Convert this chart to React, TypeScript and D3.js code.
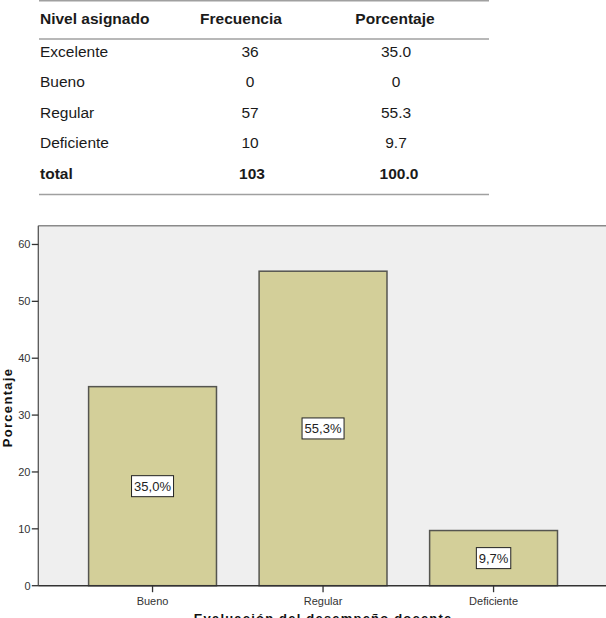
import React from "react";
import * as d3 from "d3";

// Summary table
const tableLevels = ["Excelente", "Bueno", "Regular", "Deficiente"];
const tableFrequency = ["36", "0", "57", "10"];
const tablePercent = ["35.0", "0", "55.3", "9.7"];
const totalRow = ["total", "103", "100.0"];
const tableHeaders = ["Nivel asignado", "Frecuencia", "Porcentaje"];

// Bar chart
const categories = ["Bueno", "Regular", "Deficiente"];
const percentages = [35.0, 55.3, 9.7];
const yTicks = [0, 10, 20, 30, 40, 50, 60];

const W = 606;
const H = 618;

const plot = { left: 38.3, right: 607.8, top: 225.7, bottom: 585.7 };

export default function App() {
  const x = d3
    .scaleBand<string>()
    .domain(categories)
    .range([plot.left, plot.right])
    .paddingInner(0.25)
    .paddingOuter(0.295);
  const y = d3.scaleLinear().domain([0, 63.3]).range([plot.bottom, plot.top]);

  const fmt = (v: number) => d3.format(".1f")(v).replace(".", ",") + "%";

  const tableFont = "'Liberation Sans', Arial, sans-serif";
  const rowY = [56.5, 87, 117.5, 148, 178.8];

  return (
    <svg
      width={W}
      height={H}
      style={{ position: "absolute", left: 0, top: 0, display: "block" }}
      fontFamily={tableFont}
    >
      <rect width={W} height={H} fill="#ffffff" />

      {/* table */}
      <g fill="#1a1a1a" fontSize={15.5}>
        <line x1={39} x2={489} y1={0.7} y2={0.7} stroke="#a0a0a0" strokeWidth={1.5} />
        <line x1={39} x2={489} y1={39} y2={39} stroke="#a0a0a0" strokeWidth={1.5} />
        <line x1={39} x2={489} y1={194.5} y2={194.5} stroke="#a0a0a0" strokeWidth={1.5} />
        <text x={40} y={24} fontWeight="bold">{tableHeaders[0]}</text>
        <text x={241} y={24} fontWeight="bold" textAnchor="middle">{tableHeaders[1]}</text>
        <text x={395} y={24} fontWeight="bold" textAnchor="middle">{tableHeaders[2]}</text>
        {tableLevels.map((lvl, i) => (
          <g key={lvl}>
            <text x={40} y={rowY[i]}>{lvl}</text>
            <text x={250} y={rowY[i]} textAnchor="middle">{tableFrequency[i]}</text>
            <text x={396} y={rowY[i]} textAnchor="middle">{tablePercent[i]}</text>
          </g>
        ))}
        <g fontWeight="bold">
          <text x={40} y={rowY[4]}>{totalRow[0]}</text>
          <text x={252} y={rowY[4]} textAnchor="middle">{totalRow[1]}</text>
          <text x={399} y={rowY[4]} textAnchor="middle">{totalRow[2]}</text>
        </g>
      </g>

      {/* plot background */}
      <rect
        x={plot.left}
        y={plot.top}
        width={plot.right - plot.left}
        height={plot.bottom - plot.top}
        fill="#efefef"
      />
      <line x1={plot.left} x2={W} y1={plot.top} y2={plot.top} stroke="#8a8a8a" strokeWidth={1.4} />

      {/* bars */}
      {categories.map((c, i) => (
        <rect
          key={c}
          x={x(c)}
          y={y(percentages[i])}
          width={x.bandwidth()}
          height={y(0) - y(percentages[i])}
          fill="#d3cf99"
          stroke="#555550"
          strokeWidth={1.5}
        />
      ))}

      {/* value labels */}
      {categories.map((c, i) => {
        const cx = (x(c) as number) + x.bandwidth() / 2;
        const cy = (y(percentages[i]) + y(0)) / 2;
        const label = fmt(percentages[i]);
        const bw = label.length * 7.6 + 4;
        return (
          <g key={c + "-lbl"}>
            <rect x={cx - bw / 2} y={cy - 10.5} width={bw} height={21} fill="#ffffff" stroke="#222" strokeWidth={1} />
            <text x={cx} y={cy + 4.6} textAnchor="middle" fontSize={13} fill="#222">
              {label}
            </text>
          </g>
        );
      })}

      {/* y axis */}
      <line x1={plot.left} x2={plot.left} y1={plot.top} y2={plot.bottom} stroke="#555" strokeWidth={1.3} />
      {yTicks.map((t) => (
        <g key={t}>
          <line x1={plot.left - 6.5} x2={plot.left} y1={y(t)} y2={y(t)} stroke="#333" strokeWidth={1.3} />
          <text x={30.5} y={y(t) + 3.8} textAnchor="end" fontSize={11} fill="#333">
            {t}
          </text>
        </g>
      ))}

      {/* x axis */}
      <line x1={plot.left} x2={W} y1={plot.bottom} y2={plot.bottom} stroke="#333" strokeWidth={1.4} />
      {categories.map((c) => {
        const cx = (x(c) as number) + x.bandwidth() / 2;
        return (
          <g key={c + "-tick"}>
            <line x1={cx} x2={cx} y1={plot.bottom} y2={plot.bottom + 6.5} stroke="#333" strokeWidth={1.3} />
            <text x={cx} y={604.5} textAnchor="middle" fontSize={11} fill="#333">
              {c}
            </text>
          </g>
        );
      })}

      {/* axis titles */}
      <text
        transform={`translate(11.5, 407.5) rotate(-90)`}
        textAnchor="middle"
        fontSize={13}
        fontWeight="bold"
        letterSpacing={1.3}
        fill="#111"
      >
        Porcentaje
      </text>
      <text
        x={(plot.left + plot.right) / 2}
        y={622.5}
        textAnchor="middle"
        fontSize={13}
        fontWeight="bold"
        letterSpacing={1.2}
        fill="#111"
      >
        Evaluación del desempeño docente
      </text>
    </svg>
  );
}
